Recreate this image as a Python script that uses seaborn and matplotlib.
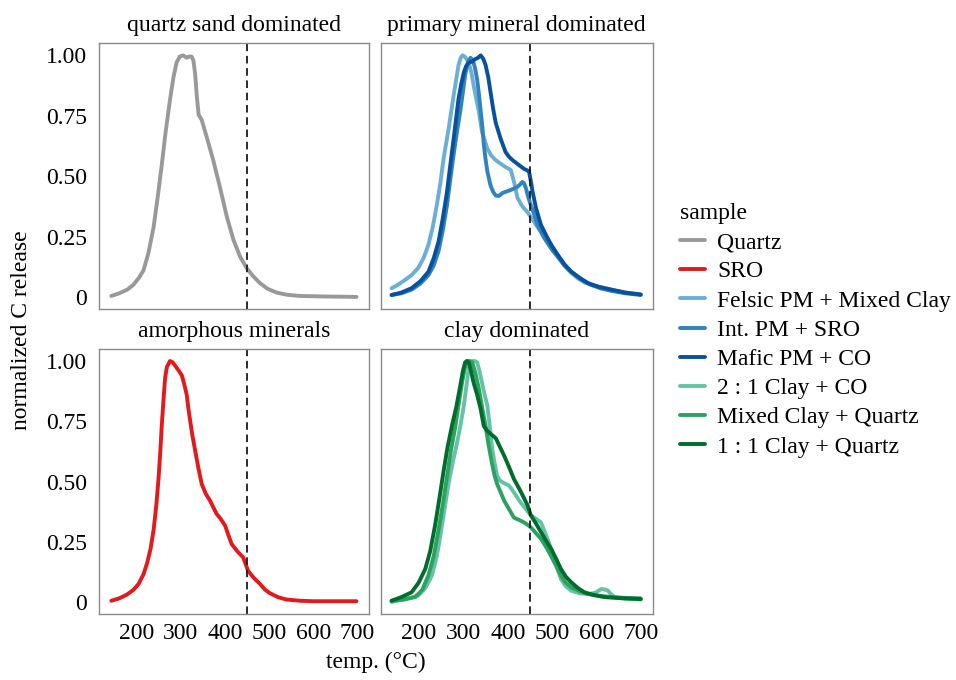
import numpy as np
import pandas as pd
import matplotlib
matplotlib.use("Agg")
import matplotlib.pyplot as plt
from matplotlib.lines import Line2D
import seaborn as sns

# ---------------- data ----------------
quartz_t = [142, 160, 178, 192, 205, 215, 226, 238, 247, 256, 265, 275, 283, 290, 297, 305, 313, 318, 324, 328, 332, 336, 340, 347, 358, 373, 388, 404, 419, 434, 449, 464, 479, 497, 517, 540, 569, 620, 698]
quartz_v = [0.004, 0.015, 0.03, 0.05, 0.08, 0.11, 0.18, 0.29, 0.41, 0.54, 0.68, 0.815, 0.91, 0.97, 0.995, 1.0, 0.99, 0.995, 0.995, 0.98, 0.926, 0.83, 0.754, 0.733, 0.664, 0.567, 0.457, 0.332, 0.236, 0.167, 0.119, 0.085, 0.057, 0.033, 0.018, 0.009, 0.004, 0.002, 0.0]

sro_t = [142, 160, 177, 192, 204, 215, 223, 231, 238, 244, 249, 253, 256, 260, 264, 268, 275, 281, 287, 295, 302, 308, 313, 317, 321, 326, 332, 339, 347, 356, 366, 374, 381, 390, 400, 407, 415, 428, 441, 452, 465, 479, 490, 502, 520, 539, 570, 600, 698]
sro_v = [0.005, 0.015, 0.03, 0.05, 0.075, 0.115, 0.16, 0.22, 0.30, 0.40, 0.51, 0.62, 0.72, 0.83, 0.93, 0.975, 1.0, 0.995, 0.98, 0.96, 0.94, 0.90, 0.86, 0.80, 0.75, 0.69, 0.63, 0.56, 0.49, 0.45, 0.42, 0.39, 0.365, 0.345, 0.317, 0.28, 0.24, 0.21, 0.185, 0.13, 0.10, 0.075, 0.052, 0.036, 0.02, 0.01, 0.005, 0.003, 0.003]

felsic_t = [138, 152, 168, 183, 198, 210, 221, 231, 240, 248, 255, 267, 278, 289, 294, 298, 303, 307, 312, 318, 323, 335, 342, 354, 363, 373, 385, 395, 407, 415, 422, 433, 445, 456, 467, 482, 498, 513, 528, 543, 558, 573, 588, 610, 634, 665, 700]
felsic_v = [0.036, 0.05, 0.07, 0.09, 0.12, 0.16, 0.215, 0.29, 0.38, 0.47, 0.57, 0.70, 0.835, 0.96, 0.99, 1.0, 0.995, 0.985, 0.97, 0.93, 0.876, 0.766, 0.683, 0.614, 0.585, 0.566, 0.55, 0.538, 0.525, 0.47, 0.41, 0.375, 0.35, 0.32, 0.29, 0.25, 0.215, 0.17, 0.13, 0.10, 0.077, 0.06, 0.05, 0.04, 0.03, 0.018, 0.01]

intpm_t = [138, 160, 183, 203, 221, 233, 244, 254, 263, 270, 278, 286, 293, 299, 304, 310, 316, 321, 326, 331, 335, 339, 343, 346, 350, 354, 361, 367, 373, 380, 388, 395, 403, 412, 422, 428, 433, 437, 441, 446, 452, 460, 467, 482, 498, 513, 528, 543, 558, 573, 588, 610, 634, 665, 700]
intpm_v = [0.008, 0.015, 0.03, 0.055, 0.09, 0.13, 0.19, 0.28, 0.38, 0.48, 0.59, 0.69, 0.77, 0.85, 0.92, 0.97, 0.99, 0.98, 0.95, 0.9, 0.84, 0.77, 0.70, 0.63, 0.57, 0.52, 0.463, 0.435, 0.42, 0.418, 0.43, 0.435, 0.44, 0.447, 0.456, 0.466, 0.476, 0.47, 0.45, 0.415, 0.38, 0.34, 0.298, 0.245, 0.20, 0.165, 0.13, 0.105, 0.085, 0.066, 0.05, 0.035, 0.025, 0.015, 0.008]

mafic_t = [138, 160, 183, 203, 221, 233, 244, 254, 263, 270, 278, 289, 295, 301, 306, 312, 320, 327, 333, 339, 345, 350, 356, 361, 367, 373, 384, 395, 403, 411, 419, 426, 437, 444, 448, 452, 456, 464, 475, 490, 500, 513, 528, 543, 562, 581, 605, 634, 665, 700]
mafic_v = [0.008, 0.018, 0.036, 0.065, 0.104, 0.16, 0.23, 0.33, 0.435, 0.54, 0.655, 0.82, 0.88, 0.93, 0.955, 0.97, 0.975, 0.985, 0.99, 1.0, 0.985, 0.96, 0.91, 0.85, 0.78, 0.72, 0.655, 0.6, 0.58, 0.566, 0.555, 0.545, 0.53, 0.524, 0.52, 0.48, 0.436, 0.366, 0.298, 0.243, 0.21, 0.174, 0.135, 0.105, 0.078, 0.057, 0.042, 0.03, 0.018, 0.01]

clay21_t = [138, 165, 198, 215, 229, 240, 248, 257, 267, 276, 286, 294, 301, 307, 312, 316, 320, 326, 331, 336, 342, 348, 354, 360, 365, 371, 376, 382, 388, 395, 403, 414, 426, 439, 452, 464, 475, 486, 498, 509, 520, 531, 543, 562, 581, 592, 600, 606, 611, 618, 626, 634, 642, 665, 700]
clay21_v = [0.0, 0.01, 0.026, 0.06, 0.11, 0.19, 0.275, 0.38, 0.497, 0.58, 0.663, 0.74, 0.815, 0.9, 0.97, 0.99, 1.0, 1.0, 0.995, 0.96, 0.91, 0.86, 0.815, 0.72, 0.635, 0.57, 0.524, 0.505, 0.497, 0.49, 0.483, 0.455, 0.42, 0.39, 0.36, 0.345, 0.33, 0.28, 0.22, 0.155, 0.095, 0.065, 0.047, 0.036, 0.033, 0.036, 0.04, 0.048, 0.054, 0.052, 0.047, 0.03, 0.02, 0.014, 0.01]

mixed_t = [138, 165, 191, 207, 221, 233, 244, 254, 263, 272, 282, 290, 297, 303, 308, 314, 320, 327, 335, 342, 350, 357, 365, 371, 376, 384, 392, 403, 414, 426, 437, 445, 452, 464, 475, 486, 498, 509, 520, 531, 543, 562, 581, 610, 634, 665, 700]
mixed_v = [0.005, 0.01, 0.02, 0.05, 0.11, 0.19, 0.30, 0.41, 0.52, 0.63, 0.73, 0.83, 0.91, 0.97, 1.0, 1.0, 0.995, 0.95, 0.884, 0.81, 0.73, 0.65, 0.57, 0.52, 0.49, 0.455, 0.42, 0.385, 0.35, 0.34, 0.33, 0.32, 0.31, 0.285, 0.262, 0.23, 0.19, 0.15, 0.11, 0.08, 0.061, 0.045, 0.033, 0.025, 0.02, 0.017, 0.015]

clay11_t = [138, 160, 183, 199, 214, 225, 236, 245, 255, 264, 274, 284, 293, 299, 304, 308, 312, 317, 323, 331, 339, 346, 354, 363, 373, 382, 392, 403, 414, 426, 437, 445, 452, 464, 475, 486, 498, 509, 520, 531, 543, 558, 573, 595, 619, 660, 700]
clay11_v = [0.005, 0.02, 0.04, 0.08, 0.137, 0.21, 0.317, 0.42, 0.54, 0.64, 0.73, 0.81, 0.898, 0.96, 0.995, 1.0, 0.995, 0.96, 0.91, 0.86, 0.80, 0.73, 0.71, 0.695, 0.68, 0.645, 0.607, 0.56, 0.51, 0.47, 0.43, 0.40, 0.36, 0.325, 0.29, 0.255, 0.22, 0.18, 0.137, 0.105, 0.082, 0.058, 0.04, 0.028, 0.02, 0.015, 0.012]

samples = ["Quartz", "SRO", "Felsic PM + Mixed Clay", "Int. PM + SRO", "Mafic PM + CO",
           "2 : 1 Clay + CO", "Mixed Clay + Quartz", "1 : 1 Clay + Quartz"]
panels = ["quartz sand dominated", "primary mineral dominated", "amorphous minerals", "clay dominated"]
sample_panel = ["quartz sand dominated", "amorphous minerals", "primary mineral dominated",
                "primary mineral dominated", "primary mineral dominated",
                "clay dominated", "clay dominated", "clay dominated"]
colors = ["#999999", "#E31A1C", "#6BAED6", "#3182BD", "#08519C", "#66C2A4", "#2CA25F", "#006D2C"]
series_t = [quartz_t, sro_t, felsic_t, intpm_t, mafic_t, clay21_t, mixed_t, clay11_t]
series_v = [quartz_v, sro_v, felsic_v, intpm_v, mafic_v, clay21_v, mixed_v, clay11_v]
x_ticks = [200, 300, 400, 500, 600, 700]
y_ticks = [0, 0.25, 0.5, 0.75, 1.0]
y_ticklabels = ["0", "0.25", "0.50", "0.75", "1.00"]
cutoff = 450

rows = []
for s, p, ts, vs in zip(samples, sample_panel, series_t, series_v):
    for t, v in zip(ts, vs):
        rows.append({"sample": s, "panel": p, "temp": t, "value": v})
df = pd.DataFrame(rows)
palette = dict(zip(samples, colors))

# ---------------- style ----------------
sns.set_theme(style="white")
plt.rcParams["font.family"] = ["Liberation Serif", "DejaVu Serif"]
plt.rcParams["text.color"] = "black"
FS = 17

W, H = 956, 680
fig = plt.figure(figsize=(W / 100, H / 100), dpi=100)

def frac_rect(x0, y0, x1, y1):
    return [x0 / W, 1 - y1 / H, (x1 - x0) / W, (y1 - y0) / H]

rects = {
    "quartz sand dominated": frac_rect(98.5, 43.3, 369.3, 309),
    "primary mineral dominated": frac_rect(380.5, 43.3, 652.7, 309),
    "amorphous minerals": frac_rect(98.5, 349, 369.3, 614),
    "clay dominated": frac_rect(380.5, 349, 652.7, 614),
}

for i, p in enumerate(panels):
    ax = fig.add_axes(rects[p])
    sub = df[df["panel"] == p]
    order = [s for s in samples if s in set(sub["sample"])]
    sns.lineplot(data=sub, x="temp", y="value", hue="sample", hue_order=order,
                 palette=palette, ax=ax, legend=False, estimator=None,
                 linewidth=2.8, sort=True)
    for ln in ax.get_lines():
        ln.set_solid_joinstyle("round")
        ln.set_solid_capstyle("round")
    ax.axvline(cutoff, color="#1a1a1a", lw=1.3, ls=(0, (4.2, 2.6)))
    ax.set_xlim(113, 727)
    ax.set_ylim(-0.05, 1.05)
    ax.set_xticks(x_ticks)
    ax.set_yticks(y_ticks)
    ax.set_xlabel("")
    ax.set_ylabel("")
    for sp in ax.spines.values():
        sp.set_color("#8a8a8a")
        sp.set_linewidth(1.0)
    ax.tick_params(axis="both", length=3.2, width=0.9, color="#555555",
                   labelsize=FS, labelcolor="black")
    ax.tick_params(axis="y", pad=5)
    ax.tick_params(axis="x", pad=3)
    if i % 2 == 0:
        ax.set_yticklabels(y_ticklabels)
    else:
        ax.tick_params(axis="y", labelleft=False)
    if i >= 2:
        ax.set_xticklabels([str(t) for t in x_ticks])
    else:
        ax.tick_params(axis="x", labelbottom=False)
    ax.set_title(p, fontsize=FS, pad=9, color="black")

fig.text(22 / W, 1 - 330 / H, "normalized C release", rotation=90, ha="center",
         va="center", fontsize=FS)
fig.text(375.5 / W, 1 - 662 / H, "temp. (°C)", ha="center", va="center", fontsize=FS)

handles = [Line2D([0], [0], color=c, lw=2.8) for c in colors]
leg = fig.legend(handles, samples, title="sample", loc="upper left",
                 bbox_to_anchor=(680 / W, 1 - 203 / H), frameon=False,
                 fontsize=FS, title_fontsize=FS, handlelength=1.05,
                 handletextpad=0.52, labelspacing=0.325, borderaxespad=0,
                 borderpad=0, alignment="left")
for t in leg.get_texts():
    t.set_color("black")
leg.get_title().set_color("black")

fig.savefig("out.png", dpi=100, facecolor="white")
